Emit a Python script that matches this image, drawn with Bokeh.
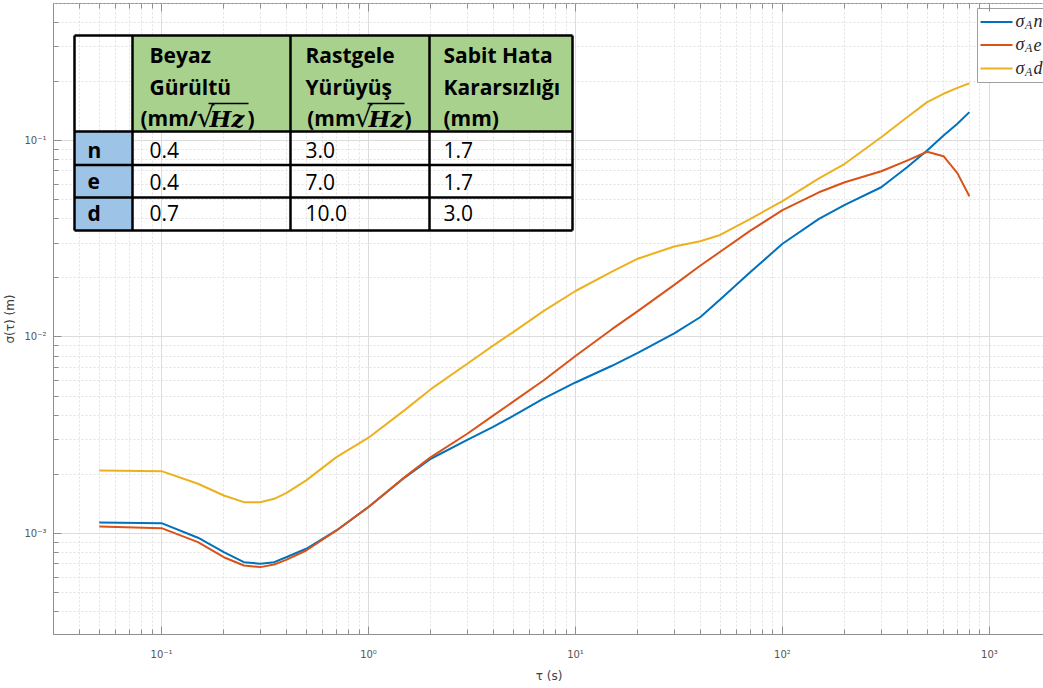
from bokeh.plotting import figure
from bokeh.models import Range1d, LinearScale, LogAxis, FixedTicker, CustomJSTickFormatter
from bokeh.core.properties import value
from bokeh.embed import file_html
from bokeh.resources import INLINE

# Allan deviation of the n / e / d position components
tau = [0.05, 0.1, 0.15, 0.2, 0.25, 0.3, 0.35, 0.4, 0.5, 0.7,
       1, 1.5, 2, 3, 4, 5, 7, 10,
       15, 20, 30, 40, 50, 70, 100,
       150, 200, 300, 400, 500, 600, 700, 800]
sigma_n = [1.138e-3, 1.128e-3, 0.951e-3, 0.803e-3, 0.714e-3, 0.701e-3, 0.714e-3, 0.757e-3, 0.836e-3, 1.036e-3,
           1.364e-3, 1.930e-3, 2.40e-3, 2.997e-3, 3.488e-3, 3.963e-3, 4.858e-3, 5.867e-3,
           7.135e-3, 8.30e-3, 1.043e-2, 1.26e-2, 1.55e-2, 2.14e-2, 2.98e-2,
           3.99e-2, 4.70e-2, 5.78e-2, 7.31e-2, 8.89e-2, 0.106, 0.1216, 0.1394]
sigma_e = [1.086e-3, 1.064e-3, 0.903e-3, 0.757e-3, 0.687e-3, 0.674e-3, 0.695e-3, 0.734e-3, 0.819e-3, 1.036e-3,
           1.364e-3, 1.941e-3, 2.445e-3, 3.216e-3, 3.976e-3, 4.685e-3, 6.007e-3, 8.007e-3,
           1.0956e-2, 1.353e-2, 1.841e-2, 2.303e-2, 2.714e-2, 3.479e-2, 4.418e-2,
           5.45e-2, 6.13e-2, 6.97e-2, 7.9e-2, 8.76e-2, 8.32e-2, 6.82e-2, 5.2e-2]
sigma_d = [2.094e-3, 2.075e-3, 1.79e-3, 1.56e-3, 1.443e-3, 1.443e-3, 1.501e-3, 1.603e-3, 1.862e-3, 2.445e-3,
           3.072e-3, 4.256e-3, 5.425e-3, 7.305e-3, 9.03e-3, 1.058e-2, 1.354e-2, 1.714e-2,
           2.152e-2, 2.503e-2, 2.888e-2, 3.069e-2, 3.304e-2, 3.995e-2, 4.914e-2,
           6.41e-2, 7.61e-2, 0.1039, 0.1314, 0.1567, 0.1729, 0.1853, 0.1957]

series_names = ["n", "e", "d"]
series_colors = ["#0072BD", "#D95319", "#EDB120"]

# noise parameters table
table_headers = [["Beyaz", "Gürültü"], ["Rastgele", "Yürüyüş"], ["Sabit Hata", "Kararsızlığı", "(mm)"]]
white_noise = [0.4, 0.4, 0.7]
random_walk = [3.0, 7.0, 10.0]
bias_instability = [1.7, 1.7, 3.0]

x_major = [10.0 ** k for k in range(-2, 4)]
x_minor = [m * 10.0 ** k for k in range(-2, 4) for m in range(2, 10)]
y_major = [10.0 ** k for k in range(-4, 1)]
y_minor = [m * 10.0 ** k for k in range(-4, 1) for m in range(2, 10)]

AXIS = "#8f8f8f"
LABEL = "#555555"

p = figure(x_axis_type="log", y_axis_type="log",
           x_range=Range1d(0.03006, 1845.0), y_range=Range1d(3.06e-4, 0.498),
           frame_width=991, frame_height=631,
           min_border_left=51, min_border_right=0, min_border_top=3, min_border_bottom=54,
           output_backend="svg", toolbar_location=None)
p.background_fill_color = "white"
p.border_fill_color = "white"
p.outline_line_color = AXIS

sup_fmt = CustomJSTickFormatter(code="""
const e = Math.round(Math.log10(tick));
const sup = {"-":"\u207b","0":"\u2070","1":"\u00b9","2":"\u00b2","3":"\u00b3","4":"\u2074","5":"\u2075","6":"\u2076","7":"\u2077","8":"\u2078","9":"\u2079"};
return "10" + String(e).split("").map(c => sup[c]).join("");
""")

xt = FixedTicker(ticks=x_major, minor_ticks=x_minor)
yt = FixedTicker(ticks=y_major, minor_ticks=y_minor)

for ax, tk in ((p.xaxis[0], xt), (p.yaxis[0], yt)):
    ax.ticker = tk
    ax.formatter = sup_fmt
    ax.axis_line_color = AXIS
    ax.major_tick_line_color = AXIS
    ax.minor_tick_line_color = AXIS
    ax.major_tick_in = 8
    ax.major_tick_out = 0
    ax.minor_tick_in = 5
    ax.minor_tick_out = 0
    ax.major_label_text_font = "DejaVu Sans"
    ax.major_label_text_font_size = "10px"
    ax.major_label_text_color = LABEL
    ax.axis_label_text_font = "DejaVu Sans"
    ax.axis_label_text_font_style = "normal"
    ax.axis_label_text_font_size = "12px"
    ax.axis_label_text_color = "#404040"

p.xaxis.axis_label = "τ (s)"
p.xaxis.major_label_standoff = 14
p.xaxis.axis_label_standoff = 6
p.yaxis.axis_label = "σ(τ) (m)"
p.yaxis.major_label_standoff = 7
p.yaxis.axis_label_standoff = 4

top_axis = LogAxis(ticker=xt,
                   formatter=CustomJSTickFormatter(code="return '';"),
                   axis_line_color=None, major_tick_line_color=AXIS,
                   minor_tick_line_color=AXIS, major_tick_in=8, major_tick_out=0,
                   minor_tick_in=5, minor_tick_out=0, major_label_standoff=0,
                   major_label_text_font_size="1px")
p.add_layout(top_axis, "above")

for g, tk in ((p.xgrid[0], xt), (p.ygrid[0], yt)):
    g.ticker = tk
    g.grid_line_color = "#dcdcdc"
    g.grid_line_width = 1
    g.minor_grid_line_color = "#e2e2e2"
    g.minor_grid_line_dash = "2 2"

# curves
for ys, c in zip((sigma_n, sigma_e, sigma_d), series_colors):
    p.line(tau, ys, line_color=c, line_width=2)

# overlay coordinate system in page pixels (y downward)
p.extra_x_ranges["px"] = Range1d(51, 1042)
p.extra_y_ranges["px"] = Range1d(634, 3)
p.extra_x_scales["px"] = LinearScale()
p.extra_y_scales["px"] = LinearScale()
PX = dict(x_range_name="px", y_range_name="px")

# ---- table ----
col_edges = [72, 130, 288, 427, 570]
row_edges = [35, 131, 164.5, 197, 230]
GREEN = "#A9D18E"
BLUE = "#9DC3E6"

p.quad(left=col_edges[1:4], right=col_edges[2:5], top=[row_edges[0]] * 3,
       bottom=[row_edges[1]] * 3, fill_color=GREEN, line_color=None, **PX)
p.quad(left=[col_edges[0]] * 3, right=[col_edges[1]] * 3, top=row_edges[1:4],
       bottom=row_edges[2:5], fill_color=BLUE, line_color=None, **PX)
# borders
p.segment(x0=col_edges, x1=col_edges, y0=[row_edges[0]] * 5, y1=[row_edges[-1]] * 5,
          line_color="black", line_width=2.5, **PX)
p.segment(x0=[col_edges[0]] * 5, x1=[col_edges[-1]] * 5, y0=row_edges, y1=row_edges,
          line_color="black", line_width=2.5, **PX)

OS = value("Open Sans")
MID = dict(text_baseline="middle", text_color="black")
text_x = [147, 303, 441]
head_mid = [54.5, 86, 117.5]
hx, hy, ht = [], [], []
for cx, lines in zip(text_x, table_headers):
    for ym, t in zip(head_mid, lines):
        hx.append(cx)
        hy.append(ym)
        ht.append(t)
p.text(x=hx, y=hy, text=ht, text_font=OS, text_font_style="bold",
       text_font_size="21px", text_align="left", **MID, **PX)

# unit lines with radical:  (mm/√Hz)  and  (mm√Hz)
p.text(x=[195, 353], y=[117.5, 117.5], text=["(mm/", "(mm"], text_font=OS,
       text_font_style="bold", text_font_size="21px", text_align="right", **MID, **PX)
p.text(x=[194, 352], y=[117, 117], text=["√", "√"], text_font=value("DejaVu Serif"),
       text_font_size="28px", text_align="left", **MID, **PX)
p.segment(x0=[206, 365], x1=[246, 402], y0=[103, 103], y1=[103, 103],
          line_color="black", line_width=1.5, **PX)
p.text(x=[207, 366], y=[117.5, 117.5], text=["Hz", "Hz"], text_font=value("DejaVu Serif"),
       text_font_style="bold italic", text_font_size="23px", text_align="left", **MID, **PX)
p.text(x=[245, 402], y=[117.5, 117.5], text=[")", ")"], text_font=OS,
       text_font_style="bold", text_font_size="21px", text_align="left", **MID, **PX)

row_mid = [149.5, 181, 212.5]
p.text(x=[85] * 3, y=row_mid, text=series_names, text_font=OS, text_font_style="bold",
       text_font_size="21px", text_align="left", **MID, **PX)
vx, vy, vt = [], [], []
for cx, vals in zip(text_x, (white_noise, random_walk, bias_instability)):
    for ym, v in zip(row_mid, vals):
        vx.append(cx)
        vy.append(ym)
        vt.append(f"{v:.1f}")
p.text(x=vx, y=vy, text=vt, text_font=OS, text_font_size="21px",
       text_align="left", **MID, **PX)

# ---- legend ----
p.quad(left=[975], right=[1060], top=[8], bottom=[82], fill_color="white",
       line_color="#a0a0a0", line_width=1, **PX)
leg_y = [21.5, 44.5, 68]
p.segment(x0=[978] * 3, x1=[1010] * 3, y0=leg_y, y1=leg_y, line_color=series_colors,
          line_width=2, **PX)
SERIF = value("Liberation Serif")
LEG = dict(text_baseline="middle", text_color="#262626", text_font=SERIF,
           text_font_style="italic")
p.text(x=[1013] * 3, y=[y - 1 for y in leg_y], text=["σ"] * 3, text_font_size="18px",
       **LEG, **PX)
p.text(x=[1022.5] * 3, y=[y + 3 for y in leg_y], text=["A"] * 3, text_font_size="12px",
       **LEG, **PX)
p.text(x=[1031] * 3, y=[y - 1 for y in leg_y], text=series_names, text_font_size="18px",
       **LEG, **PX)

open("out.html", "w").write(file_html(p, INLINE))
